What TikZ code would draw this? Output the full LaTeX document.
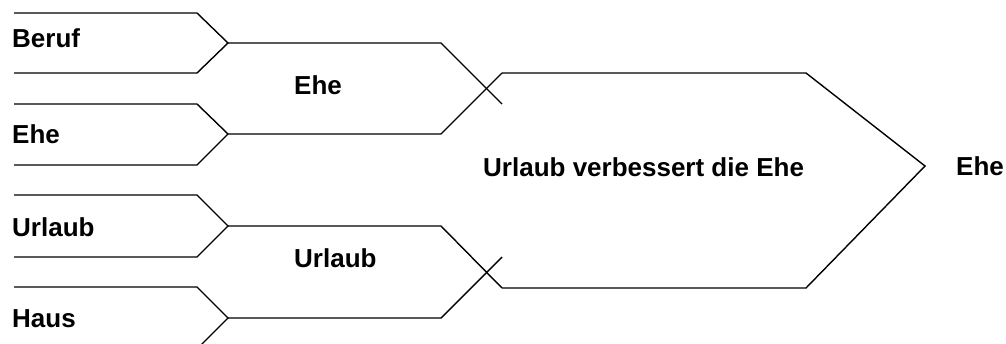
\documentclass[tikz,border=0pt]{standalone}
\usepackage{fontspec}
\setmainfont{Liberation Sans}
\begin{document}
\begin{tikzpicture}[x=1pt,y=-1pt,
  lbl/.style={font=\bfseries\fontsize{26}{30}\selectfont, inner sep=0pt, anchor=base west},
  ln/.style={line width=1.4pt, line join=miter, line cap=butt}]
\useasboundingbox (0,0) rectangle (1006,343);
\clip (0,0) rectangle (1006,343);
% input shapes
\draw[ln] (14,13) -- (197,13) -- (228,43) -- (197,73) -- (14,73);
\draw[ln] (14,104) -- (197,104) -- (228,134) -- (197,165) -- (14,165);
\draw[ln] (14,195) -- (197,195) -- (228,226) -- (197,257) -- (14,257);
\draw[ln] (14,287) -- (197,287) -- (228,318) -- (197,349) -- (14,349);
% merged blocks
\draw[ln] (228,43) -- (441,43) -- (502,104);
\draw[ln] (228,134) -- (441,134) -- (502,73);
\draw[ln] (228,226) -- (441,226) -- (502,288);
\draw[ln] (228,318) -- (441,318) -- (502,257);
% big block
\draw[ln] (502,73) -- (806,73) -- (925,166) -- (806,288) -- (502,288);
% labels
\node[lbl] (beruf) at (12,47) {Beruf};
\node[lbl] (ehein) at (12,143) {Ehe};
\node[lbl] (urlaubin) at (12,236) {Urlaub};
\node[lbl] (haus) at (12,327) {Haus};
\node[lbl] (ehemid) at (294,94) {Ehe};
\node[lbl] (urlaubmid) at (294,267) {Urlaub};
\node[lbl] (big) at (483,176) {Urlaub verbessert die Ehe};
\node[lbl] (eheout) at (956,175) {Ehe};
\end{tikzpicture}
\end{document}
